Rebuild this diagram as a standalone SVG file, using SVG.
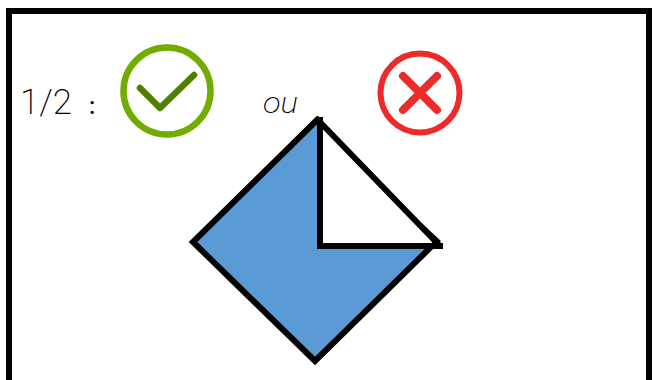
<svg xmlns="http://www.w3.org/2000/svg" width="653" height="380" viewBox="0 0 653 380">
<style>
.t{font-family:"Roboto","Liberation Sans",sans-serif;font-weight:200;fill:#000}
.s{stroke:#000;stroke-width:6;stroke-miterlimit:10}
</style>
<rect width="653" height="380" fill="#fff"/>
<rect id="frame" x="9" y="11" width="640" height="380" fill="none" stroke="#000" stroke-width="6"/>
<g id="label">
<text class="t" x="20" y="114" font-size="35" textLength="52" lengthAdjust="spacingAndGlyphs">1/2</text>
<text class="t" x="89" y="114" font-size="24" style="font-weight:500">:</text>
</g>
<g id="yes">
<circle cx="167" cy="91" r="43.500" fill="none" stroke="#70ad00" stroke-width="6.500"/>
<path d="M140 88 L160 108 L194 75" fill="none" stroke="#4f7f00" stroke-width="6.500" stroke-linecap="round" stroke-linejoin="round"/>
</g>
<g id="ou"><text class="t" x="263" y="113" font-size="30" font-style="italic" textLength="35" lengthAdjust="spacingAndGlyphs">ou</text></g>
<g id="no">
<circle cx="420" cy="93" r="39.500" fill="none" stroke="#ee2b2b" stroke-width="6"/>
<path d="M403 76 L437 110 M437 76 L403 110" fill="none" stroke="#ee2b2b" stroke-width="8" stroke-linecap="round"/>
</g>
<g id="square">
<polygon class="s" points="317,120 193,242 315,361 434,244" fill="#5b9bd5"/>
<polygon points="320,122 320,246 437,246" fill="#fff"/>
<path class="s" d="M320 117 V246 H443" fill="none"/>
<path class="s" d="M316 118 L439 245" fill="none"/>
<path d="M414 216 L441 241 L434 245 Z" fill="#000"/>
</g>
</svg>
